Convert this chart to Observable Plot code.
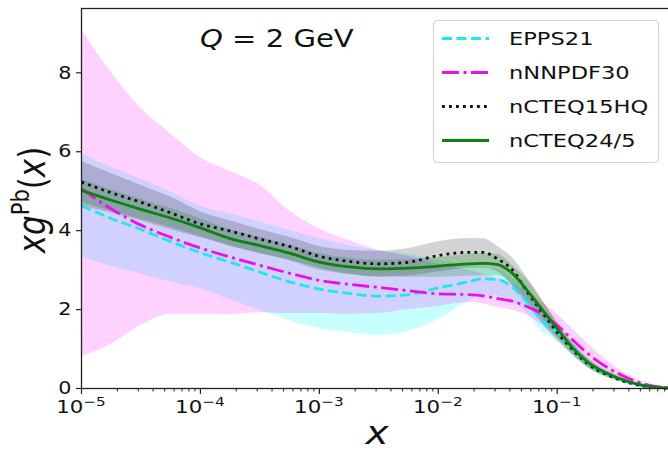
<!DOCTYPE html>
<html><head><meta charset="utf-8">
<script src="https://cdn.jsdelivr.net/npm/d3@7"></script>
<script src="https://cdn.jsdelivr.net/npm/@observablehq/plot@0.6"></script>
<style>
html,body{margin:0;padding:0;background:#fff;overflow:hidden}
#chart{position:relative;width:668px;height:452px;overflow:hidden}
</style></head><body><div id="chart"></div>
<script>
// x grid (momentum fraction) at which the curves were read
const xs = [1e-5, 1.78e-5, 3.16e-5, 5.62e-5, 1e-4, 1.78e-4, 3.16e-4, 5.62e-4, 1e-3, 1.78e-3, 3.16e-3, 5.62e-3, 1e-2, 1.78e-2, 2.37e-2, 3.16e-2, 4.22e-2, 5.62e-2, 7.5e-2, 0.1, 0.133, 0.178, 0.316, 0.562, 0.85];

// EPPS21
const epps21   = [4.63, 4.31, 4.03, 3.72, 3.44, 3.2, 2.95, 2.7, 2.52, 2.41, 2.34, 2.38, 2.55, 2.7, 2.78, 2.76, 2.56, 2.18, 1.72, 1.42, 1.05, 0.66, 0.26, 0.05, 0.01];
const epps21Lo = [3.33, 3.1, 2.9, 2.7, 2.52, 2.25, 1.98, 1.72, 1.52, 1.42, 1.35, 1.45, 1.75, 2.2, 2.35, 2.35, 2.2, 1.9, 1.45, 1.2, 0.88, 0.56, 0.21, 0.04, 0.005];
const epps21Hi = [5.95, 5.6, 5.3, 4.98, 4.62, 4.42, 4.22, 4.0, 3.8, 3.62, 3.5, 3.4, 3.25, 3.12, 3.05, 3.02, 2.8, 2.5, 2.0, 1.62, 1.18, 0.76, 0.31, 0.06, 0.012];

// nNNPDF30
const nnpdf30   = [5.06, 4.55, 4.14, 3.83, 3.56, 3.33, 3.12, 2.92, 2.74, 2.64, 2.56, 2.48, 2.40, 2.38, 2.35, 2.28, 2.21, 2.07, 1.88, 1.6, 1.25, 0.9, 0.4, 0.1, 0.02];
const nnpdf30Lo = [0.8, 1.12, 1.6, 1.88, 1.88, 1.87, 1.92, 1.9, 1.9, 1.88, 1.9, 2.0, 2.08, 2.18, 2.15, 2.05, 1.98, 1.85, 1.6, 1.3, 0.98, 0.68, 0.28, 0.07, 0.01];
const nnpdf30Hi = [9.1, 8.0, 7.1, 6.45, 5.85, 5.5, 5.15, 4.5, 4.05, 3.75, 3.5, 3.35, 3.15, 3.0, 2.9, 2.8, 2.65, 2.45, 2.18, 1.88, 1.52, 1.15, 0.52, 0.13, 0.02];

// nCTEQ15HQ
const ncteq15   = [5.23, 4.96, 4.72, 4.45, 4.17, 3.99, 3.79, 3.6, 3.35, 3.22, 3.16, 3.2, 3.37, 3.45, 3.45, 3.28, 3.0, 2.44, 1.93, 1.42, 1.0, 0.64, 0.25, 0.05, 0.01];
const ncteq15Lo = [4.62, 4.45, 4.25, 4.02, 3.82, 3.62, 3.42, 3.25, 3.05, 2.9, 2.83, 2.85, 2.95, 3.05, 3.05, 2.95, 2.6, 2.12, 1.65, 1.22, 0.86, 0.54, 0.2, 0.04, 0.005];
const ncteq15Hi = [5.75, 5.45, 5.15, 4.85, 4.48, 4.25, 4.03, 3.83, 3.6, 3.5, 3.48, 3.55, 3.72, 3.8, 3.8, 3.6, 3.3, 2.8, 2.25, 1.65, 1.15, 0.76, 0.3, 0.07, 0.012];

// nCTEQ24/5
const ncteq24   = [5.02, 4.77, 4.54, 4.32, 4.07, 3.8, 3.62, 3.43, 3.2, 3.08, 3.03, 3.05, 3.1, 3.16, 3.17, 3.14, 2.91, 2.48, 1.99, 1.52, 1.05, 0.68, 0.28, 0.06, 0.01];
const ncteq24Lo = [4.72, 4.5, 4.29, 4.08, 3.85, 3.6, 3.42, 3.24, 3.0, 2.88, 2.82, 2.82, 2.82, 2.85, 2.86, 2.86, 2.62, 2.22, 1.76, 1.3, 0.88, 0.55, 0.2, 0.04, 0.005];
const ncteq24Hi = [5.3, 5.03, 4.79, 4.56, 4.3, 4.02, 3.83, 3.63, 3.42, 3.3, 3.25, 3.27, 3.32, 3.4, 3.42, 3.4, 3.12, 2.75, 2.22, 1.7, 1.2, 0.8, 0.35, 0.08, 0.012];

const seriesNames = ["EPPS21", "nNNPDF30", "nCTEQ15HQ", "nCTEQ24/5"];
const xMajorTicks = [1e-5, 1e-4, 1e-3, 1e-2, 1e-1];
const xMajorExp = ["5", "4", "3", "2", "1"];
const xMinorTicks = [2e-5,3e-5,4e-5,5e-5,6e-5,7e-5,8e-5,9e-5,2e-4,3e-4,4e-4,5e-4,6e-4,7e-4,8e-4,9e-4,2e-3,3e-3,4e-3,5e-3,6e-3,7e-3,8e-3,9e-3,2e-2,3e-2,4e-2,5e-2,6e-2,7e-2,8e-2,9e-2,0.2,0.3,0.4,0.5,0.6,0.7,0.8,0.9];
const yTicks = [0, 2, 4, 6, 8];

const styles = {
  "EPPS21":    {stroke:"#1fe6ef", fill:"#00ffff", fo:0.22, dash:"10,4.5", sw:2.8},
  "nNNPDF30":  {stroke:"#ea10ea", fill:"#ff00ff", fo:0.18, dash:"17,4.5,3,4.5", sw:2.8},
  "nCTEQ15HQ": {stroke:"#111111", fill:"#000000", fo:0.17, dash:"2.8,4.2", sw:2.8},
  "nCTEQ24/5": {stroke:"#0f7f0f", fill:"#008000", fo:0.22, dash:null, sw:2.8}
};
const cols = [[epps21, epps21Lo, epps21Hi],[nnpdf30, nnpdf30Lo, nnpdf30Hi],[ncteq15, ncteq15Lo, ncteq15Hi],[ncteq24, ncteq24Lo, ncteq24Hi]];
const tables = seriesNames.map((name, k) => xs.map((x, i) => ({name, x, y: cols[k][0][i], lo: cols[k][1][i], hi: cols[k][2][i]})));

const W = 668, H = 452;
const axisColor = "#222";
const marks = [];
tables.forEach((t, k) => {
  const s = styles[seriesNames[k]];
  marks.push(Plot.areaY(t, {x:"x", y1:"lo", y2:"hi", fill:s.fill, fillOpacity:s.fo, curve:"monotone-x"}));
});
tables.forEach((t, k) => {
  const s = styles[seriesNames[k]];
  marks.push(Plot.lineY(t, {x:"x", y:"y", stroke:s.stroke, strokeWidth:s.sw, strokeDasharray:s.dash, strokeLinecap:"butt", curve:"monotone-x"}));
});
marks.push(Plot.axisX({ticks:xMajorTicks, tickSize:6, tickFormat:() => "", stroke:axisColor, strokeWidth:1.2, label:null}));
marks.push(Plot.axisX({ticks:xMinorTicks, tickSize:3.5, tickFormat:() => "", stroke:axisColor, strokeWidth:1, label:null}));
marks.push(Plot.axisY({ticks:yTicks, tickSize:5, tickFormat:() => "", stroke:axisColor, strokeWidth:1.2, label:null}));
marks.push(Plot.frame({stroke:axisColor, strokeWidth:1.3}));

const plot = Plot.plot({
  width: W, height: H,
  marginLeft: 81, marginRight: -5, marginTop: 8, marginBottom: 64,
  x: {type:"log", domain:[1e-5, 0.95]},
  y: {domain:[0, 9.63]},
  style: {fontFamily:"DejaVu Sans", background:"#fff", color:axisColor},
  marks
});
document.getElementById("chart").appendChild(plot);

const xS = plot.scale("x"), yS = plot.scale("y");
const svg = d3.select(plot);
const SX = 1.22;
const font = "DejaVu Sans, sans-serif";
function stretched(x, y, extra="") {
  return `translate(${x},${y}) scale(${SX},1)${extra}`;
}
const g = svg.append("g").attr("font-family", font).attr("fill", "#111");

// x tick labels 10^-n
xMajorTicks.forEach((v, i) => {
  const t = g.append("text").attr("transform", stretched(xS.apply(v), 413)).attr("text-anchor", "middle").attr("font-size", 17.5);
  t.append("tspan").text("10");
  t.append("tspan").attr("font-size", 12.5).attr("dy", -7.5).text("\u2212" + xMajorExp[i]);
});
// y tick labels
yTicks.forEach(v => {
  g.append("text").attr("transform", stretched(71.5, yS.apply(v) + 6.2)).attr("text-anchor", "end").attr("font-size", 17).text(String(v));
});
// x label
g.append("text").attr("transform", stretched(377, 444)).attr("text-anchor", "middle").attr("font-size", 32).attr("font-style", "italic").text("x");
// y label
{
  const t = g.append("text").attr("transform", `translate(45,200) scale(${SX},1) rotate(-90)`).attr("text-anchor", "middle").attr("font-size", 31);
  t.append("tspan").attr("font-style", "italic").text("xg");
  t.append("tspan").attr("font-size", 21).attr("dy", -13).text("Pb");
  t.append("tspan").attr("dy", 13).text("(");
  t.append("tspan").attr("font-style", "italic").text("x");
  t.append("tspan").text(")");
}
// title
{
  const t = g.append("text").attr("transform", `translate(200,46.5) scale(1.14,1)`).attr("text-anchor", "start").attr("font-size", 25.5);
  t.append("tspan").attr("font-style", "italic").text("Q");
  t.append("tspan").text(" = 2 GeV");
}
// legend
{
  const lg = svg.append("g").attr("font-family", font);
  lg.append("rect").attr("x", 433.5).attr("y", 20.5).attr("width", 225).attr("height", 142).attr("rx", 4)
    .attr("fill", "#fff").attr("fill-opacity", 0.85).attr("stroke", "#d4d4d4").attr("stroke-width", 1.2);
  seriesNames.forEach((name, i) => {
    const s = styles[name];
    const yy = 38.5 + i * 34;
    lg.append("line").attr("x1", 442).attr("x2", 489).attr("y1", yy).attr("y2", yy)
      .attr("stroke", s.stroke).attr("stroke-width", s.sw).attr("stroke-dasharray", s.dash);
    lg.append("text").attr("transform", stretched(509, yy + 6.8)).attr("text-anchor", "start").attr("font-size", 18.5).attr("fill", "#111").text(name);
  });
}
</script></body></html>
